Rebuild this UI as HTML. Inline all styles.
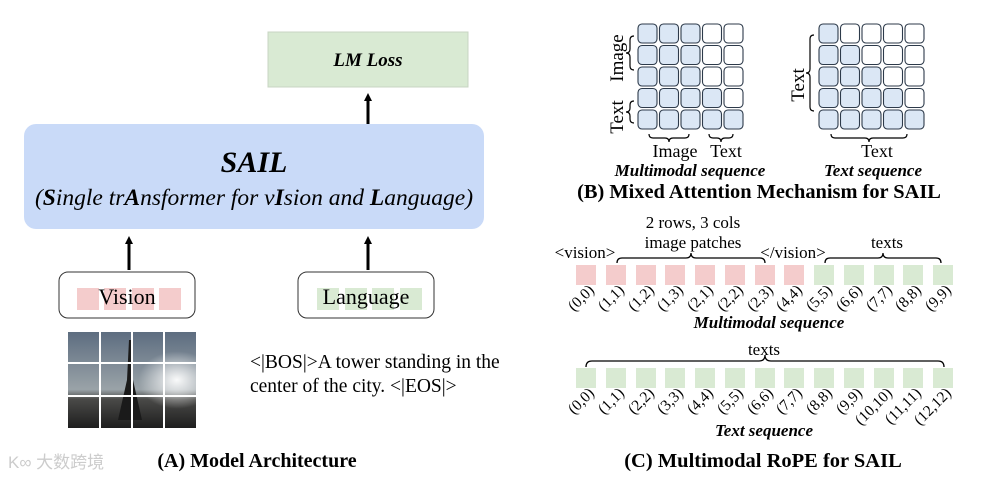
<!DOCTYPE html>
<html><head><meta charset="utf-8"><style>
html,body{margin:0;padding:0;background:#fff;}
svg{display:block;font-family:"Liberation Serif","Noto Serif CJK SC",serif;}
</style></head><body>
<svg width="982" height="484" viewBox="0 0 982 484" xmlns="http://www.w3.org/2000/svg">
<defs>
<marker id="ah" markerWidth="8" markerHeight="8" refX="4" refY="4" orient="auto" markerUnits="userSpaceOnUse">
<path d="M0,0 L8,4 L0,8 z" fill="#000"/></marker>
<linearGradient id="sky" x1="0" y1="0" x2="0" y2="1">
<stop offset="0" stop-color="#5d6d80"/><stop offset="0.6" stop-color="#9aa3a8"/><stop offset="0.7" stop-color="#4a4a48"/><stop offset="1" stop-color="#1e1e1e"/></linearGradient>
<radialGradient id="sun" cx="0.85" cy="0.5" r="0.3"><stop offset="0" stop-color="#fff" stop-opacity="0.95"/><stop offset="1" stop-color="#fff" stop-opacity="0"/></radialGradient>
</defs>
<!-- Panel A -->
<rect x="268" y="32" width="200" height="55" fill="#d9ead3" stroke="#c8d4c3" stroke-width="1"/>
<text x="368" y="66" text-anchor="middle" font-size="19" font-weight="bold" font-style="italic">LM Loss</text>
<line x1="368" y1="124" x2="368" y2="97" stroke="#000" stroke-width="3" marker-end="url(#ah)"/>
<rect x="24" y="124" width="460" height="105" rx="12" fill="#c9daf8"/>
<text x="254" y="172" text-anchor="middle" font-size="30" font-weight="bold" font-style="italic">SAIL</text>
<text x="254" y="205" text-anchor="middle" font-size="23.5" font-style="italic">(<tspan font-weight="bold">S</tspan>ingle tr<tspan font-weight="bold">A</tspan>nsformer for v<tspan font-weight="bold">I</tspan>sion and <tspan font-weight="bold">L</tspan>anguage)</text>
<line x1="129" y1="270" x2="129" y2="240" stroke="#000" stroke-width="3" marker-end="url(#ah)"/>
<line x1="368" y1="270" x2="368" y2="240" stroke="#000" stroke-width="3" marker-end="url(#ah)"/>
<rect x="59" y="272" width="136" height="46" rx="9" fill="#fff" stroke="#333" stroke-width="1"/>
<g fill="#f4cccc"><rect x="77" y="288" width="22" height="22"/><rect x="104" y="288" width="22" height="22"/><rect x="132" y="288" width="22" height="22"/><rect x="159" y="288" width="22" height="22"/></g>
<text x="127" y="304" text-anchor="middle" font-size="22">Vision</text>
<rect x="298" y="272" width="136" height="46" rx="9" fill="#fff" stroke="#333" stroke-width="1"/>
<g fill="#d9ead3"><rect x="317" y="288" width="22" height="22"/><rect x="345" y="288" width="22" height="22"/><rect x="372" y="288" width="22" height="22"/><rect x="400" y="288" width="22" height="22"/></g>
<text x="366" y="304" text-anchor="middle" font-size="22">Language</text>
<rect x="68" y="332" width="128" height="96" fill="url(#sky)"/>
<rect x="68" y="332" width="128" height="96" fill="url(#sun)"/>
<path d="M129,340 L131,340 L133,380 L142,420 L118,420 L127,380 z" fill="#1a1a1a"/>
<g stroke="#fff" stroke-width="2"><line x1="100" y1="332" x2="100" y2="428"/><line x1="132" y1="332" x2="132" y2="428"/><line x1="164" y1="332" x2="164" y2="428"/><line x1="68" y1="363" x2="196" y2="363"/><line x1="68" y1="396" x2="196" y2="396"/></g>
<text x="250" y="368" font-size="19.5">&lt;|BOS|&gt;A tower standing in the</text>
<text x="250" y="392" font-size="19.5">center of the city. &lt;|EOS|&gt;</text>
<text x="8" y="468" font-size="17" fill="#ccc" font-family="Liberation Sans, Noto Sans CJK SC, sans-serif">K∞ 大数跨境</text>
<text x="257" y="467" text-anchor="middle" font-size="20" font-weight="bold">(A) Model Architecture</text>
<!-- Panel B -->
<g stroke="#2d3a4a" stroke-width="1.1">
<rect x="638" y="24" width="19" height="19" rx="4" fill="#dbe7f5"/><rect x="659.5" y="24" width="19" height="19" rx="4" fill="#dbe7f5"/><rect x="681" y="24" width="19" height="19" rx="4" fill="#dbe7f5"/><rect x="702.5" y="24" width="19" height="19" rx="4" fill="#fff"/><rect x="724" y="24" width="19" height="19" rx="4" fill="#fff"/>
<rect x="638" y="45.5" width="19" height="19" rx="4" fill="#dbe7f5"/><rect x="659.5" y="45.5" width="19" height="19" rx="4" fill="#dbe7f5"/><rect x="681" y="45.5" width="19" height="19" rx="4" fill="#dbe7f5"/><rect x="702.5" y="45.5" width="19" height="19" rx="4" fill="#fff"/><rect x="724" y="45.5" width="19" height="19" rx="4" fill="#fff"/>
<rect x="638" y="67" width="19" height="19" rx="4" fill="#dbe7f5"/><rect x="659.5" y="67" width="19" height="19" rx="4" fill="#dbe7f5"/><rect x="681" y="67" width="19" height="19" rx="4" fill="#dbe7f5"/><rect x="702.5" y="67" width="19" height="19" rx="4" fill="#fff"/><rect x="724" y="67" width="19" height="19" rx="4" fill="#fff"/>
<rect x="638" y="88.5" width="19" height="19" rx="4" fill="#dbe7f5"/><rect x="659.5" y="88.5" width="19" height="19" rx="4" fill="#dbe7f5"/><rect x="681" y="88.5" width="19" height="19" rx="4" fill="#dbe7f5"/><rect x="702.5" y="88.5" width="19" height="19" rx="4" fill="#dbe7f5"/><rect x="724" y="88.5" width="19" height="19" rx="4" fill="#fff"/>
<rect x="638" y="110" width="19" height="19" rx="4" fill="#dbe7f5"/><rect x="659.5" y="110" width="19" height="19" rx="4" fill="#dbe7f5"/><rect x="681" y="110" width="19" height="19" rx="4" fill="#dbe7f5"/><rect x="702.5" y="110" width="19" height="19" rx="4" fill="#dbe7f5"/><rect x="724" y="110" width="19" height="19" rx="4" fill="#dbe7f5"/>
<rect x="819" y="24" width="19" height="19" rx="4" fill="#dbe7f5"/><rect x="840.5" y="24" width="19" height="19" rx="4" fill="#fff"/><rect x="862" y="24" width="19" height="19" rx="4" fill="#fff"/><rect x="883.5" y="24" width="19" height="19" rx="4" fill="#fff"/><rect x="905" y="24" width="19" height="19" rx="4" fill="#fff"/>
<rect x="819" y="45.5" width="19" height="19" rx="4" fill="#dbe7f5"/><rect x="840.5" y="45.5" width="19" height="19" rx="4" fill="#dbe7f5"/><rect x="862" y="45.5" width="19" height="19" rx="4" fill="#fff"/><rect x="883.5" y="45.5" width="19" height="19" rx="4" fill="#fff"/><rect x="905" y="45.5" width="19" height="19" rx="4" fill="#fff"/>
<rect x="819" y="67" width="19" height="19" rx="4" fill="#dbe7f5"/><rect x="840.5" y="67" width="19" height="19" rx="4" fill="#dbe7f5"/><rect x="862" y="67" width="19" height="19" rx="4" fill="#dbe7f5"/><rect x="883.5" y="67" width="19" height="19" rx="4" fill="#fff"/><rect x="905" y="67" width="19" height="19" rx="4" fill="#fff"/>
<rect x="819" y="88.5" width="19" height="19" rx="4" fill="#dbe7f5"/><rect x="840.5" y="88.5" width="19" height="19" rx="4" fill="#dbe7f5"/><rect x="862" y="88.5" width="19" height="19" rx="4" fill="#dbe7f5"/><rect x="883.5" y="88.5" width="19" height="19" rx="4" fill="#dbe7f5"/><rect x="905" y="88.5" width="19" height="19" rx="4" fill="#fff"/>
<rect x="819" y="110" width="19" height="19" rx="4" fill="#dbe7f5"/><rect x="840.5" y="110" width="19" height="19" rx="4" fill="#dbe7f5"/><rect x="862" y="110" width="19" height="19" rx="4" fill="#dbe7f5"/><rect x="883.5" y="110" width="19" height="19" rx="4" fill="#dbe7f5"/><rect x="905" y="110" width="19" height="19" rx="4" fill="#dbe7f5"/>
</g>
<g fill="none" stroke="#000" stroke-width="1.2">
<path d="M634,36 q-4,0 -4,4 v9 q0,4 -4,4 q4,0 4,4 v9 q0,4 4,4"/>
<path d="M634,101 q-4,0 -4,4 v3 q0,4 -4,4 q4,0 4,4 v3 q0,4 4,4"/>
<path d="M649,134 q0,4 4,4 h12 q4,0 4,4 q0,-4 4,-4 h12 q4,0 4,-4"/>
<path d="M709,134 q0,4 4,4 h4 q4,0 4,4 q0,-4 4,-4 h4 q4,0 4,-4"/>
<path d="M814,35 q-4,0 -4,4 v30 q0,4 -4,4 q4,0 4,4 v30 q0,4 4,4"/>
<path d="M831,134 q0,4 4,4 h30 q4,0 4,4 q0,-4 4,-4 h30 q4,0 4,-4"/>
</g>
<text transform="translate(623,58) rotate(-90)" text-anchor="middle" font-size="19">Image</text>
<text transform="translate(623,117) rotate(-90)" text-anchor="middle" font-size="19">Text</text>
<text transform="translate(804,85) rotate(-90)" text-anchor="middle" font-size="19">Text</text>
<text x="675" y="157" text-anchor="middle" font-size="18">Image</text>
<text x="726" y="157" text-anchor="middle" font-size="18">Text</text>
<text x="877" y="157" text-anchor="middle" font-size="18">Text</text>
<text x="690" y="176" text-anchor="middle" font-size="17" font-weight="bold" font-style="italic">Multimodal sequence</text>
<text x="873" y="176" text-anchor="middle" font-size="17" font-weight="bold" font-style="italic">Text sequence</text>
<text x="759" y="198" text-anchor="middle" font-size="20.4" font-weight="bold">(B) Mixed Attention Mechanism for SAIL</text>
<!-- Panel C -->
<text x="693" y="228" text-anchor="middle" font-size="17">2 rows, 3 cols</text>
<text x="693" y="248" text-anchor="middle" font-size="17">image patches</text>
<text x="585" y="258" text-anchor="middle" font-size="17">&lt;vision&gt;</text>
<text x="793" y="258" text-anchor="middle" font-size="17">&lt;/vision&gt;</text>
<text x="887" y="248" text-anchor="middle" font-size="17">texts</text>
<g fill="none" stroke="#000" stroke-width="1.3">
<path d="M617,263 q0,-5 5,-5 h64 q5,0 5,-5 q0,5 5,5 h64 q5,0 5,5"/>
<path d="M825,263 q0,-5 5,-5 h48 q5,0 5,-5 q0,5 5,5 h48 q5,0 5,5"/>
<path d="M586,367 q0,-6 6,-6 h167 q6,0 6,-6 q0,6 6,6 h167 q6,0 6,6"/>
</g>
<text x="764" y="355" text-anchor="middle" font-size="17">texts</text>
<g>
<rect x="576" y="265" width="20" height="20" fill="#f4cccc"/><rect x="606" y="265" width="20" height="20" fill="#f4cccc"/><rect x="636" y="265" width="20" height="20" fill="#f4cccc"/><rect x="665" y="265" width="20" height="20" fill="#f4cccc"/><rect x="695" y="265" width="20" height="20" fill="#f4cccc"/><rect x="725" y="265" width="20" height="20" fill="#f4cccc"/><rect x="755" y="265" width="20" height="20" fill="#f4cccc"/><rect x="784" y="265" width="20" height="20" fill="#f4cccc"/>
<rect x="814" y="265" width="20" height="20" fill="#d9ead3"/><rect x="844" y="265" width="20" height="20" fill="#d9ead3"/><rect x="874" y="265" width="20" height="20" fill="#d9ead3"/><rect x="903" y="265" width="20" height="20" fill="#d9ead3"/><rect x="933" y="265" width="20" height="20" fill="#d9ead3"/>
</g>
<g fill="#d9ead3">
<rect x="576" y="368" width="20" height="20"/><rect x="606" y="368" width="20" height="20"/><rect x="636" y="368" width="20" height="20"/><rect x="665" y="368" width="20" height="20"/><rect x="695" y="368" width="20" height="20"/><rect x="725" y="368" width="20" height="20"/><rect x="755" y="368" width="20" height="20"/><rect x="784" y="368" width="20" height="20"/><rect x="814" y="368" width="20" height="20"/><rect x="844" y="368" width="20" height="20"/><rect x="874" y="368" width="20" height="20"/><rect x="903" y="368" width="20" height="20"/><rect x="933" y="368" width="20" height="20"/>
</g>
<g font-size="15.5" text-anchor="end">
<text transform="translate(595,291) rotate(-45)">(0,0)</text>
<text transform="translate(625,291) rotate(-45)">(1,1)</text>
<text transform="translate(655,291) rotate(-45)">(1,2)</text>
<text transform="translate(684,291) rotate(-45)">(1,3)</text>
<text transform="translate(714,291) rotate(-45)">(2,1)</text>
<text transform="translate(744,291) rotate(-45)">(2,2)</text>
<text transform="translate(774,291) rotate(-45)">(2,3)</text>
<text transform="translate(803,291) rotate(-45)">(4,4)</text>
<text transform="translate(833,291) rotate(-45)">(5,5)</text>
<text transform="translate(863,291) rotate(-45)">(6,6)</text>
<text transform="translate(893,291) rotate(-45)">(7,7)</text>
<text transform="translate(922,291) rotate(-45)">(8,8)</text>
<text transform="translate(952,291) rotate(-45)">(9,9)</text>
<text transform="translate(595,394) rotate(-45)">(0,0)</text>
<text transform="translate(625,394) rotate(-45)">(1,1)</text>
<text transform="translate(655,394) rotate(-45)">(2,2)</text>
<text transform="translate(684,394) rotate(-45)">(3,3)</text>
<text transform="translate(714,394) rotate(-45)">(4,4)</text>
<text transform="translate(744,394) rotate(-45)">(5,5)</text>
<text transform="translate(774,394) rotate(-45)">(6,6)</text>
<text transform="translate(803,394) rotate(-45)">(7,7)</text>
<text transform="translate(833,394) rotate(-45)">(8,8)</text>
<text transform="translate(863,394) rotate(-45)">(9,9)</text>
<text transform="translate(893,394) rotate(-45)">(10,10)</text>
<text transform="translate(922,394) rotate(-45)">(11,11)</text>
<text transform="translate(952,394) rotate(-45)">(12,12)</text>
</g>
<text x="769" y="328" text-anchor="middle" font-size="17" font-weight="bold" font-style="italic">Multimodal sequence</text>
<text x="764" y="436" text-anchor="middle" font-size="17" font-weight="bold" font-style="italic">Text sequence</text>
<text x="763" y="467" text-anchor="middle" font-size="20.5" font-weight="bold">(C) Multimodal RoPE for SAIL</text>
</svg>
</body></html>
